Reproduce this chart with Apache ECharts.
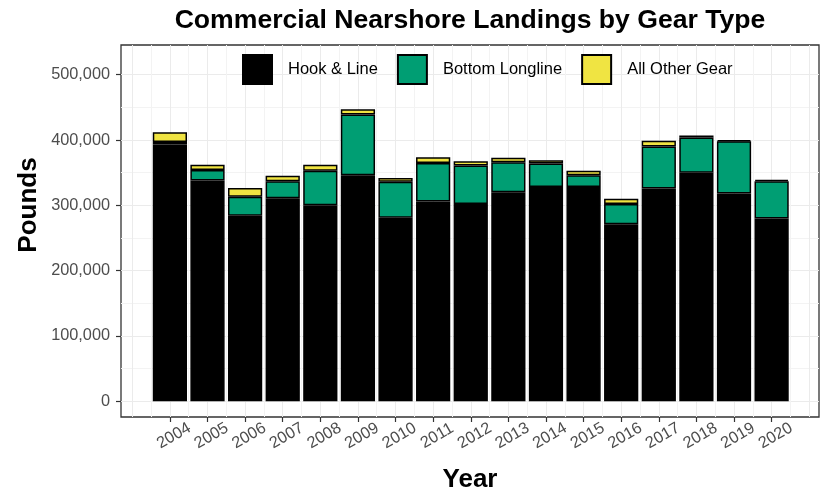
<!DOCTYPE html>
<html>
<head>
<meta charset="utf-8">
<script src="https://cdn.jsdelivr.net/npm/echarts@6/dist/echarts.min.js"></script>
<style>
html,body{margin:0;padding:0;background:#ffffff;}
#c{width:821px;height:498px;}
</style>
</head>
<body>
<div id="c"></div>
<script>
// ---- data (pounds) ----
const years = [2004, 2005, 2006, 2007, 2008, 2009, 2010, 2011, 2012, 2013, 2014, 2015, 2016, 2017, 2018, 2019, 2020];
const hookLine = [393000, 338000, 284000, 311000, 300000, 346000, 281000, 306000, 302000, 320000, 328000, 328000, 271000, 326000, 350000, 318000, 280000];
const bottomLongline = [4000, 16000, 29000, 26000, 53000, 93000, 55000, 59000, 59000, 46000, 36000, 18000, 31000, 64000, 54000, 80000, 57000];
const otherGear = [15000, 8000, 13500, 8500, 9000, 8000, 6000, 8500, 6500, 7000, 5000, 7000, 8000, 9000, 3000, 2000, 2000];
const yTickValues = [0, 100000, 200000, 300000, 400000, 500000];
const seriesNames = ['Hook & Line', 'Bottom Longline', 'All Other Gear'];
const seriesColors = ['#000000', '#009E73', '#F0E442'];

const seriesValues = [hookLine, bottomLongline, otherGear];
const FONT = '"Liberation Sans", Arial, Helvetica, sans-serif';
const X_MIN = 2002.7, X_MAX = 2021.26;
const Y_MIN = -24000, Y_MAX = 545500;
const MAJOR = '#EBEBEB', MINOR = '#F3F3F3';

const chart = echarts.init(document.getElementById('c'), null, { renderer: 'canvas' });

const option = {
  animation: false,
  backgroundColor: '#ffffff',
  title: {
    text: 'Commercial Nearshore Landings by Gear Type',
    left: 470, top: 7, padding: 0, textAlign: 'center',
    textStyle: { fontFamily: FONT, fontSize: 26.6, fontWeight: 'bold', color: '#000000' }
  },
  legend: {
    data: seriesNames,
    left: 242, top: 54, padding: 0,
    itemWidth: 29, itemHeight: 29, itemGap: 19,
    icon: 'rect',
    textStyle: { fontFamily: FONT, fontSize: 16.5, color: '#000000', padding: [0, 0, 0, 11] }
  },
  grid: {
    left: 121, right: 2, top: 45, bottom: 78,
    show: true, borderColor: '#333333', borderWidth: 1.3, backgroundColor: '#ffffff'
  },
  graphic: [{
    type: 'text', x: 29, y: 205, rotation: Math.PI / 2,
    style: { text: 'Pounds', font: 'bold 26px ' + FONT, fill: '#000000', align: 'center', verticalAlign: 'middle' }
  }],
  xAxis: [
    {
      type: 'value', min: X_MIN, max: X_MAX, position: 'bottom',
      minInterval: 0.5, maxInterval: 0.5,
      axisLine: { show: false, onZero: false },
      axisTick: { show: false }, axisLabel: { show: false },
      splitLine: { show: true, showMinLine: false, showMaxLine: false, lineStyle: { color: [MAJOR, MINOR], width: 1 } }
    },
    {
      type: 'value', min: X_MIN, max: X_MAX, position: 'bottom',
      axisLine: { show: false, onZero: false },
      splitLine: { show: false },
      axisTick: { show: true, customValues: years, length: 5, lineStyle: { color: '#333333', width: 1.2 } },
      axisLabel: {
        customValues: years, rotate: 30, align: 'center', verticalAlign: 'top', margin: 12,
        fontFamily: FONT, fontSize: 16.3, color: '#4D4D4D',
        formatter: v => String(Math.round(v))
      },
      name: 'Year', nameLocation: 'middle', nameGap: 50,
      nameTextStyle: { fontFamily: FONT, fontSize: 26, fontWeight: 'bold', color: '#000000' }
    }
  ],
  yAxis: [
    {
      type: 'value', min: Y_MIN, max: Y_MAX, position: 'left',
      minInterval: 50000, maxInterval: 50000,
      axisLine: { show: false, onZero: false },
      axisTick: { show: false }, axisLabel: { show: false },
      splitLine: { show: true, showMinLine: false, showMaxLine: false, lineStyle: { color: [MAJOR, MINOR], width: 1 } }
    },
    {
      type: 'value', min: Y_MIN, max: Y_MAX, position: 'left',
      axisLine: { show: false, onZero: false },
      splitLine: { show: false },
      axisTick: { show: true, customValues: yTickValues, length: 5, lineStyle: { color: '#333333', width: 1.2 } },
      axisLabel: {
        customValues: yTickValues, margin: 11,
        fontFamily: FONT, fontSize: 16.3, color: '#4D4D4D',
        formatter: v => Math.round(v).toLocaleString('en-US')
      }
    }
  ],
  series: seriesNames.map((name, i) => ({
    name: name,
    type: 'bar',
    stack: 'total',
    xAxisIndex: 0, yAxisIndex: 0,
    barWidth: '91%',
    // value first so that the stacked dimension is the value (y) dimension
    dimensions: [{ name: 'pounds', type: 'float' }, { name: 'year', type: 'float' }],
    encode: { x: 1, y: 0 },
    data: years.map((yr, j) => [seriesValues[i][j], yr]),
    itemStyle: { color: seriesColors[i], borderColor: '#000000', borderWidth: 1.5 },
    emphasis: { disabled: true }
  }))
};

chart.setOption(option);
</script>
</body>
</html>
